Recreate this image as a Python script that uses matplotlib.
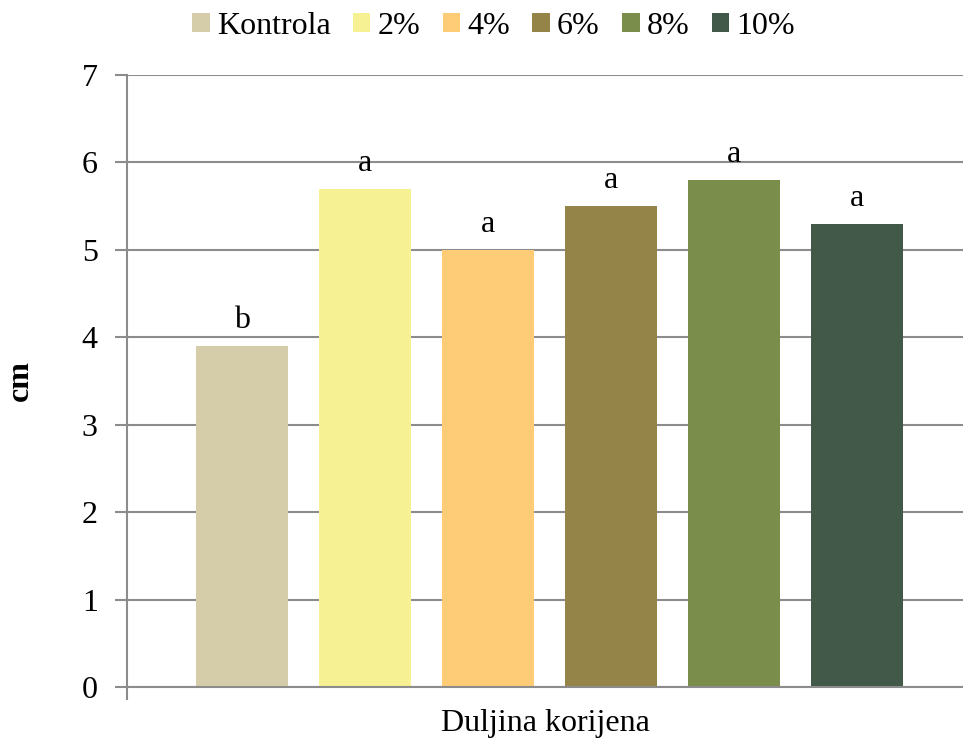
import numpy as np
import matplotlib.pyplot as plt
from matplotlib.patches import Patch

# podaci
kategorije = ["Kontrola", "2%", "4%", "6%", "8%", "10%"]
vrijednosti = [3.9, 5.7, 5.0, 5.5, 5.8, 5.3]
slova = ["b", "a", "a", "a", "a", "a"]
boje = ["#D5CDA9", "#F6F192", "#FECC77", "#948448", "#7B8D4B", "#42594A"]

plt.rcParams['font.family'] = ['Liberation Serif', 'DejaVu Serif']
fs = 23

fig = plt.figure(figsize=(9.63, 7.44), dpi=100)
ax = fig.add_axes([0.1319, 0.0766, 0.8681, 0.8226])

x = np.arange(len(kategorije))
bars = ax.bar(x, vrijednosti, width=0.75, color=boje, zorder=2)

for b, s in zip(bars, slova):
    ax.annotate(s, (b.get_x() + b.get_width() / 2, b.get_height()),
                xytext=(0, 13), textcoords='offset points',
                ha='center', va='baseline', fontsize=fs)

ax.set_ylim(0, 7)
ax.set_xlim(-0.935, 5.86)
ax.set_yticks(range(0, 8))
ax.yaxis.grid(True, color='#8C8C8C', linewidth=1.5, zorder=0)
ax.set_axisbelow(True)
ax.tick_params(axis='y', labelsize=fs, length=9, width=1.5, color='#8C8C8C', pad=12)
ax.set_xticks([-0.935])
ax.set_xticklabels([''])
ax.tick_params(axis='x', length=9, width=1.5, color='#8C8C8C')

for side in ['top', 'right']:
    ax.spines[side].set_visible(False)
for side in ['left', 'bottom']:
    ax.spines[side].set_color('#8C8C8C')
    ax.spines[side].set_linewidth(1.5)

ax.set_ylabel("cm", fontsize=fs, fontweight='bold', labelpad=34)
ax.set_xlabel("Duljina korijena", fontsize=fs, labelpad=3)

handles = [Patch(facecolor=c) for c in boje]
fig.legend(handles, kategorije, loc='upper center', bbox_to_anchor=(0.5125, 1.023),
           ncol=6, frameon=False, fontsize=fs, handlelength=0.55, handleheight=0.55,
           handletextpad=0.22, columnspacing=0.7)

fig.savefig("out.png", dpi=100)
